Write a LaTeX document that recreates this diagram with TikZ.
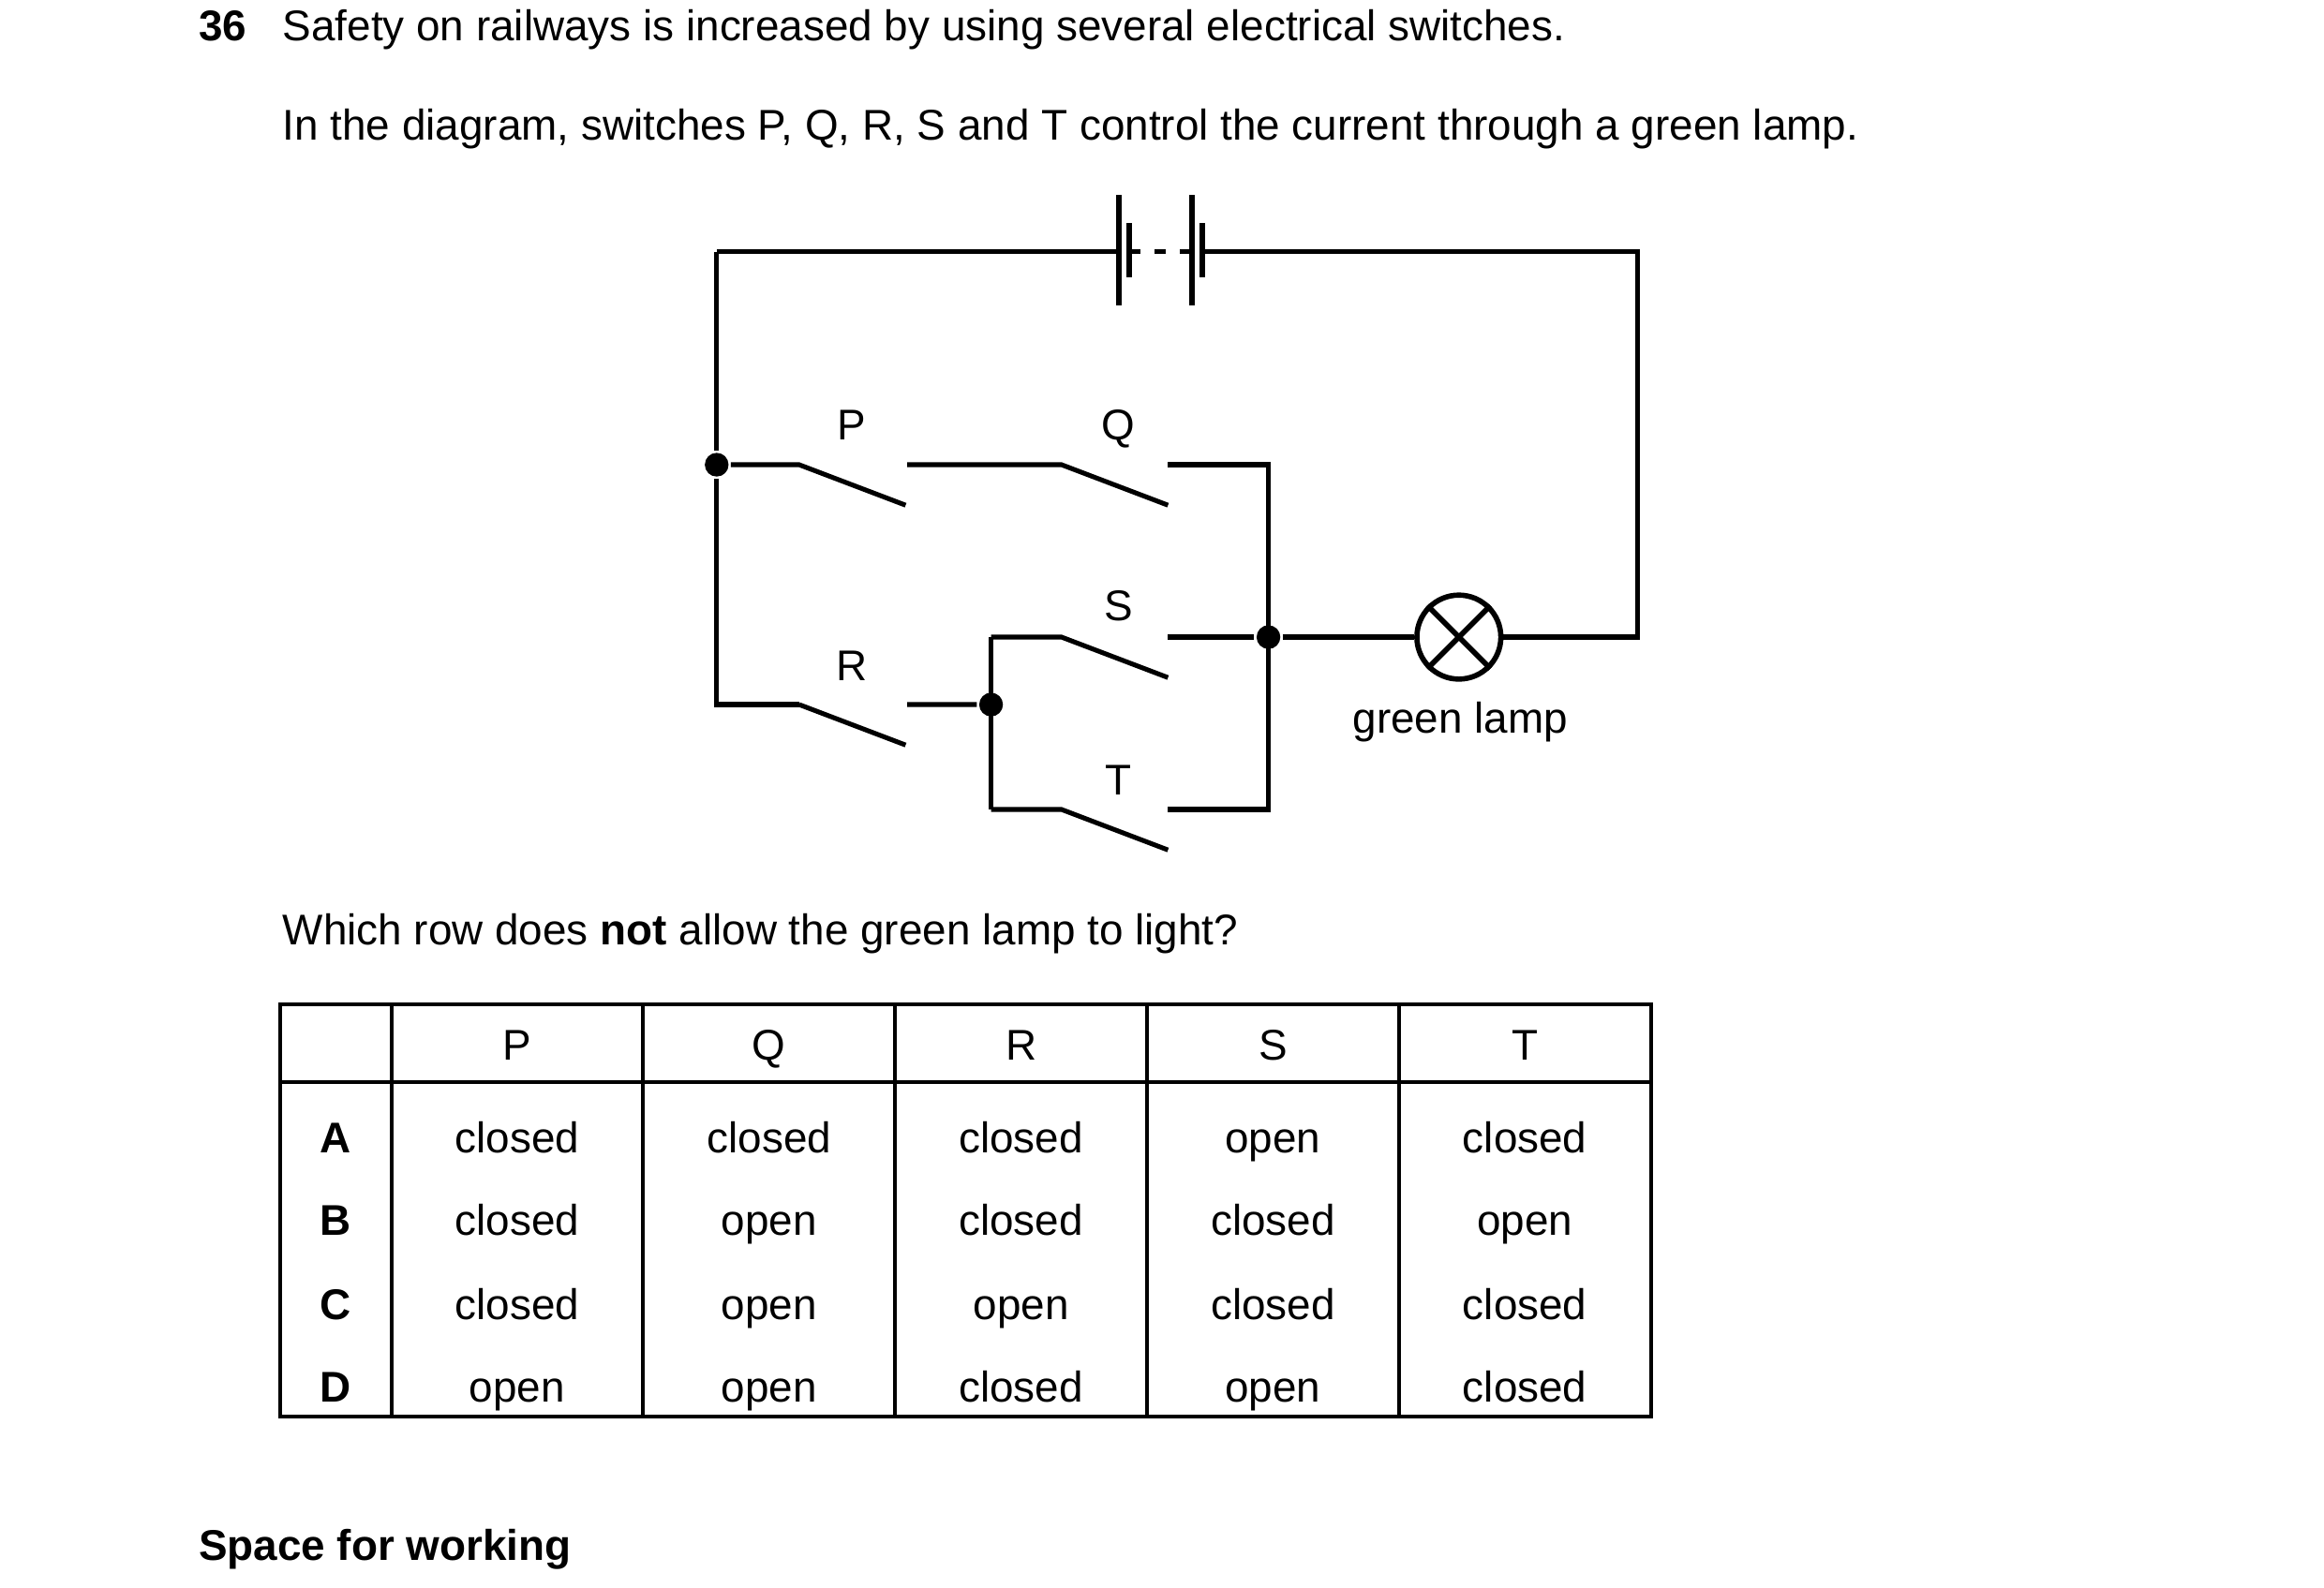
\documentclass[tikz,border=0pt]{standalone}
\usepackage{fontspec}
\setmainfont{Liberation Sans}
\begin{document}
\begin{tikzpicture}[x=0.01cm,y=-0.01cm,line width=0.9pt,
  every node/.style={font=\fontsize{8.15}{9.8}\selectfont,inner sep=0pt,text height=1.6ex,text depth=0.4ex},
  dot/.style={circle,fill=black,minimum size=4.5pt,text height=,text depth=}]
  \tikzstyle{cell}=[line width=1.1pt]
  \useasboundingbox (0,0) rectangle (1550,1059);
  % text
  \node[anchor=west] (num) at (131,16) {\textbf{36}};
  \node[anchor=west] (q1) at (187,16) {Safety on railways is increased by using several electrical switches.};
  \node[anchor=west] (q2) at (187,82) {In the diagram, switches P, Q, R, S and T control the current through a green lamp.};
  \node[anchor=west] (q3) at (187,619) {Which row does \textbf{not} allow the green lamp to light?};
  \node[anchor=west] (sp) at (131,1030) {\textbf{Space for working}};
  % battery
  \draw (478,168) -- (746,168) (802,168) -- (1092,168) -- (1092,425) -- (1001,425);
  \draw[cell] (746,130) -- (746,204) (795,130) -- (795,204);
  \draw[cell] (753,149) -- (753,185) (802,149) -- (802,185);
  \draw[dash pattern=on 2.2pt off 2.6pt] (753,168) -- (795,168);
  % lamp
  \node[circle,draw,minimum size=0.56cm,line width=1pt,text height=,text depth=] (lamp) at (973,425) {};
  \draw[line width=1pt] (lamp.north west) -- (lamp.south east) (lamp.north east) -- (lamp.south west);
  \node (gl) at (974,478) {green lamp};
  % junctions
  \node[dot] (j1) at (478,310) {};
  \node[dot] (j2) at (846,425) {};
  \node[dot] (j3) at (661,470) {};
  \draw (478,168) -- (j1) -- (478,470) -- (533,470);
  % switches
  \draw (j1) -- (533,310) -- (604,337) (605,310) -- (708,310) -- (779,337);
  \draw (779,310) -- (846,310) -- (846,540) -- (779,540);
  \draw (j2) -- (lamp) (j2) -- (779,425);
  \draw (533,470) -- (604,497) (605,470) -- (j3);
  \draw (661,425) -- (661,540);
  \draw (661,425) -- (708,425) -- (779,452);
  \draw (661,540) -- (708,540) -- (779,567);
  \node (P) at (568,282) {P};
  \node (Q) at (746,282) {Q};
  \node (S) at (746,403) {S};
  \node (R) at (568,443) {R};
  \node (T) at (746,519) {T};
  % table
  \draw[line width=0.7pt] (187,670) rectangle (1101,945) (187,722) -- (1101,722);
  \foreach \x in {261,429,597,765,933} \draw[line width=0.7pt] (\x,670) -- (\x,945);
  \foreach \t [count=\i] in {P,Q,R,S,T}
    \node (h\i) at (177+168*\i,696) {\t};
  \foreach \l/\y/\a/\b/\c/\d/\e in {A/758/closed/closed/closed/open/closed,
      B/813/closed/open/closed/closed/open,
      C/869/closed/open/open/closed/closed,
      D/924/open/open/closed/open/closed} {
    \node (r\l) at (224,\y) {\textbf{\l}};
    \node at (345,\y) {\a};
    \node at (513,\y) {\b};
    \node at (681,\y) {\c};
    \node at (849,\y) {\d};
    \node at (1017,\y) {\e};
  }
\end{tikzpicture}
\end{document}
